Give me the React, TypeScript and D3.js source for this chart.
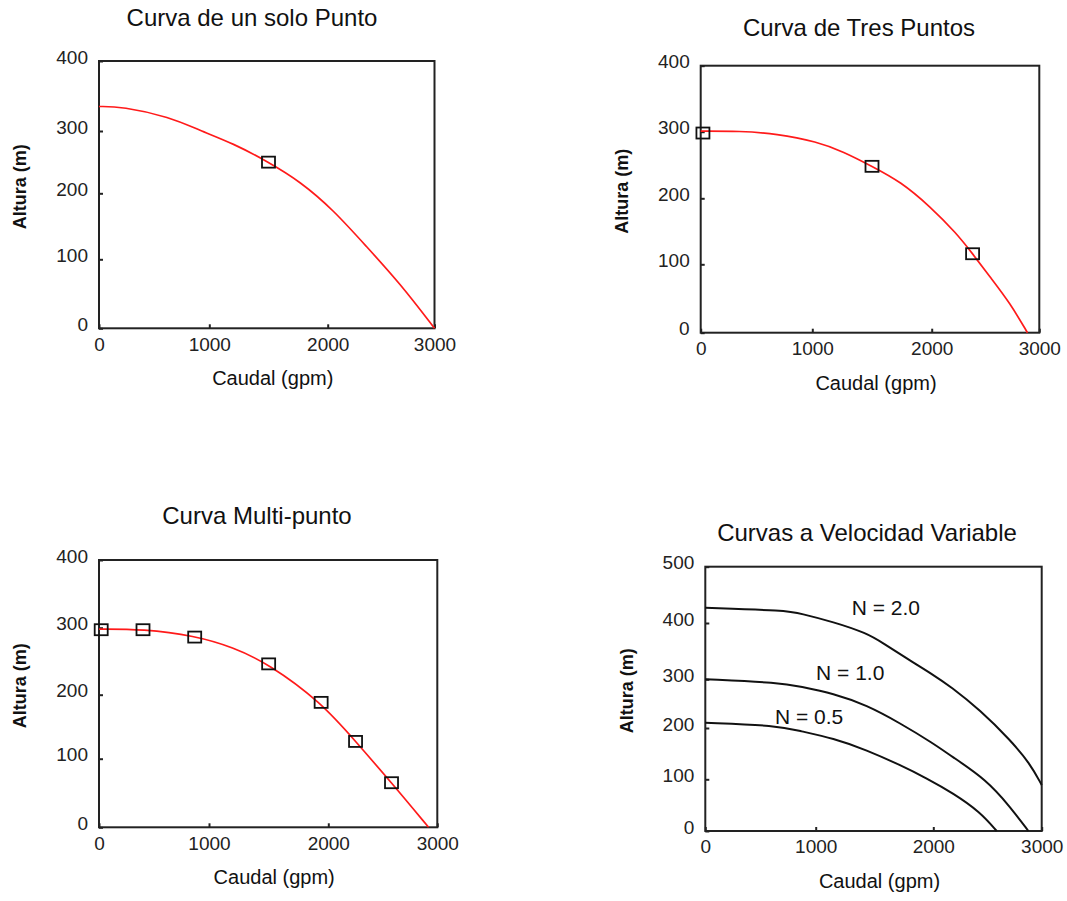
import React, { useEffect, useRef } from 'react';
import * as d3 from 'd3';

// ejes
const flowTicks = [0, 1000, 2000, 3000];
const headTicks = [0, 100, 200, 300, 400];
const headTicksVar = [0, 100, 200, 300, 400, 500];

// Curva de un solo Punto
const singleCurve: [number, number][] = [
  [0, 335], [206, 335], [644, 320], [909, 301], [1203, 280], [1500, 250],
  [1767, 219], [2052, 175], [2365, 119], [2677, 65], [3000, 0],
];
const singlePoints: [number, number][] = [[1500, 250]];

// Curva de Tres Puntos
const threeCurve: [number, number][] = [
  [0, 301], [350, 301], [680, 297], [1040, 285], [1260, 270], [1500, 248],
  [1740, 225], [1990, 187], [2230, 147], [2380, 116], [2540, 82], [2730, 43], [2890, 0],
];
const threePoints: [number, number][] = [[20, 298], [1500, 248], [2380, 116]];

// Curva Multi-punto
const multiPoints: [number, number][] = [
  [20, 297], [400, 297], [870, 286], [1500, 246], [1940, 188], [2250, 127], [2580, 65],
];
const multiCurve: [number, number][] = [
  [0, 298], [400, 298], [870, 288], [1200, 271], [1500, 246], [1940, 188],
  [2250, 127], [2580, 65], [2920, 0],
];

// Curvas a Velocidad Variable
const speedLabels = ['N = 2.0', 'N = 1.0', 'N = 0.5'];
const speedLabelPos: [number, number][] = [[1306, 414], [1003, 299], [631, 208]];
const speedN20: [number, number][] = [
  [0, 427], [737, 422], [858, 417], [1150, 402], [1434, 382], [1575, 364], [1774, 337],
  [2000, 308], [2160, 285], [2431, 237], [2708, 177], [2892, 131], [3000, 89],
];
const speedN10: [number, number][] = [
  [0, 300], [677, 293], [858, 285], [1150, 271], [1434, 247], [1717, 210],
  [2000, 170], [2154, 147], [2492, 99], [2708, 47], [2877, 0],
];
const speedN05: [number, number][] = [
  [0, 211], [649, 205], [858, 194], [1150, 180], [1434, 157], [1717, 128],
  [1944, 102], [2184, 73], [2431, 37], [2585, 0],
];

type Panel = {
  title: string;
  xRange: number[]; // posicion de cada marca 0..3000
  yRange: number[]; // posicion de cada marca 0..max
  yTicks: number[];
  titleX: number;
  titleY: number;
  lines: [number, number][][];
  color: string;
  points: [number, number][];
  labels?: string[];
  labelPos?: [number, number][];
};

const panels: Panel[] = [
  { title: 'Curva de un solo Punto', xRange: [99, 209.3, 327.7, 434.5], yRange: [328.3, 259.3, 193.3, 131, 61],
    yTicks: headTicks, titleX: 252, titleY: 18, lines: [singleCurve], color: '#ff1a1a', points: singlePoints },
  { title: 'Curva de Tres Puntos', xRange: [700.7, 812.3, 931.7, 1039.3], yRange: [332.7, 264.3, 198.3, 131.7, 65.7],
    yTicks: headTicks, titleX: 859, titleY: 28, lines: [threeCurve], color: '#ff1a1a', points: threePoints },
  { title: 'Curva Multi-punto', xRange: [99, 209, 328.3, 437.3], yRange: [827.3, 758.7, 694.7, 627.7, 560],
    yTicks: headTicks, titleX: 257, titleY: 516, lines: [multiCurve], color: '#ff1a1a', points: multiPoints },
  { title: 'Curvas a Velocidad Variable', xRange: [705.3, 815.7, 933.3, 1041.7],
    yRange: [831, 779.3, 728, 679.3, 623, 566.7], yTicks: headTicksVar, titleX: 867, titleY: 533,
    lines: [speedN20, speedN10, speedN05], color: '#111', points: [], labels: speedLabels, labelPos: speedLabelPos },
];

const FONT = '"Liberation Sans", Arial, sans-serif';

const App = () => {
  const svgRef = useRef<SVGSVGElement>(null);

  useEffect(() => {
    const svg = d3.select(svgRef.current);
    svg.selectAll('*').remove();

    panels.forEach((p) => {
      const x = d3.scaleLinear().domain(flowTicks).range(p.xRange);
      const y = d3.scaleLinear().domain(p.yTicks).range(p.yRange);
      const l = x(0), r = x(3000);
      const b = y(0), t = y(p.yTicks[p.yTicks.length - 1]);
      const g = svg.append('g');

      // titulo
      g.append('text')
        .attr('x', p.titleX).attr('y', p.titleY).attr('dy', '0.35em')
        .attr('text-anchor', 'middle').attr('font-size', 24).attr('fill', '#111')
        .text(p.title);

      // ejes con marcas hacia adentro
      const yAxis = g.append('g')
        .attr('transform', `translate(${l},0)`)
        .call(d3.axisLeft(y).tickValues(p.yTicks).tickSize(-4).tickPadding(11).tickFormat(d3.format('d')));
      yAxis.select('.domain').remove();
      yAxis.selectAll('line').attr('stroke', '#222').attr('stroke-width', 2);
      yAxis.selectAll('text').attr('font-size', 19).attr('font-family', FONT).attr('fill', '#222')
        .attr('dy', '0.12em');

      const xAxis = g.append('g')
        .attr('transform', `translate(0,${b})`)
        .call(d3.axisBottom(x).tickValues(flowTicks).tickSize(-4).tickPadding(9).tickFormat(d3.format('d')));
      xAxis.select('.domain').remove();
      xAxis.selectAll('line').attr('stroke', '#222').attr('stroke-width', 2);
      xAxis.selectAll('text').attr('font-size', 19).attr('font-family', FONT).attr('fill', '#222');

      // marco
      g.append('rect')
        .attr('x', l).attr('y', t).attr('width', r - l).attr('height', b - t)
        .attr('fill', 'none').attr('stroke', '#222').attr('stroke-width', 2);

      // titulos de ejes
      g.append('text')
        .attr('x', (l + r) / 2 + 6).attr('y', b + 50).attr('dy', '0.35em')
        .attr('text-anchor', 'middle').attr('font-size', 20).attr('fill', '#111')
        .text('Caudal (gpm)');
      g.append('text')
        .attr('transform', `translate(${l - 79},${(t + b) / 2 - 8}) rotate(-90)`)
        .attr('dy', '0.35em')
        .attr('text-anchor', 'middle').attr('font-size', 18).attr('font-weight', 'bold').attr('fill', '#111')
        .text('Altura (m)');

      // curva suavizada (las lecturas del original tienen algo de ruido)
      const line = d3.line<[number, number]>()
        .x((d) => x(d[0]))
        .y((d) => y(d[1]))
        .curve(d3.curveBasis);

      p.lines.forEach((pts) => {
        g.append('path')
          .attr('d', line(pts))
          .attr('fill', 'none')
          .attr('stroke', p.color)
          .attr('stroke-width', p.points.length ? 1.7 : 2);
      });

      g.selectAll('.pt')
        .data(p.points)
        .enter()
        .append('rect')
        .attr('x', (d) => x(d[0]) - 6.5)
        .attr('y', (d) => y(d[1]) - 5.5)
        .attr('width', 13)
        .attr('height', 11)
        .attr('fill', 'none')
        .attr('stroke', '#111')
        .attr('stroke-width', 1.8);

      if (p.labels && p.labelPos) {
        g.selectAll('.lbl')
          .data(p.labels)
          .enter()
          .append('text')
          .attr('x', (d, i) => x(p.labelPos![i][0]))
          .attr('y', (d, i) => y(p.labelPos![i][1]))
          .attr('font-size', 21)
          .attr('fill', '#111')
          .text((d) => d);
      }
    });
  }, []);

  return (
    <svg
      ref={svgRef}
      width={1067}
      height={901}
      style={{ position: 'absolute', left: 0, top: 0, background: '#fff', fontFamily: FONT }}
    />
  );
};

export default App;
